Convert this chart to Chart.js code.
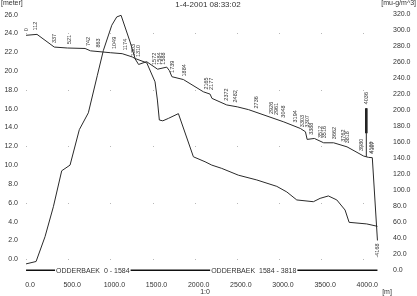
<!DOCTYPE html>
<html><head><meta charset="utf-8">
<script src="https://cdn.jsdelivr.net/npm/chart.js@4/dist/chart.umd.min.js"></script>
<style>html,body{margin:0;padding:0;background:#fff;overflow:hidden}canvas{display:block}</style>
</head><body><canvas id="c" width="417" height="296"></canvas>
<script>
// ---- data ----
const wlChainage = [0,130,335,490,700,765,1000,1140,1260,1290,1335,1430,1560,1669,1700,1730,1866,2103,2183,2205,2380,2505,2640,3057,3254,3314,3334,3420,3530,3648,3807,4004,4063,4107,4168];
const wlLevel    = [23.8,23.9,22.55,22.45,22.4,22.15,21.95,21.85,21.5,21.35,20.7,21.0,20.2,20.42,20.05,19.4,19.1,17.8,17.55,17.1,16.4,16.2,15.9,14.6,13.9,13.55,12.74,12.84,12.38,12.38,11.95,10.97,10.83,10.8,2.0];
const concChainage = [0,119,225,324,423,522,632,739,846,917,1017,1076,1127,1234,1293,1432,1530,1558,1581,1622,1688,1807,1985,2123,2203,2321,2518,2737,2974,3093,3211,3408,3488,3586,3686,3784,3832,4041,4168];
const concValue    = [8,11,42,79.5,124.5,131.6,176,197,244,275,306.6,317,319,285.7,265,259.5,235.8,213,188,187,190,196,142,135.8,131.6,127.5,119,113,105,98,88,85.8,90,93,88,75.4,60,58,55];
const pointLabels = [0,112,337,521,742,863,1049,1174,1303,1310,1572,1584,1588,1739,1884,2165,2177,2372,2482,2736,2926,2961,3048,3194,3303,3307,3388,3512,3516,3662,3762,3818,3980,4036,4100,4107,4168];
const structureChainage = 4036;
const structureTop = 16.05;
const structureThickBottom = 13.4;
const branchNames = ['ODDERBAEK  0 - 1584', 'ODDERBAEK  1584 - 3818'];
const branchStart = [0, 1584];
const branchEnd   = [1584, 3818];
const xTickValues = [0,500,1000,1500,2000,2500,3000,3500,4000];
const leftTickValues = [0,2,4,6,8,10,12,14,16,18,20,22,24,26];
const rightTickValues = [0,20,40,60,80,100,120,140,160,180,200,220,240,260,280,300,320];
const gridDotLevels = [0,6,12,18,24];
const titleText = '1-4-2001 08:33:02';
const leftUnit = '[meter]';
const rightUnit = '[mu-g/m^3]';
const xUnit = '[m]';
const scaleText = '1:0';

// ---- helpers ----
function interp(xs, ys, x) {
  if (x <= xs[0]) return ys[0];
  for (let i = 1; i < xs.length; i++) {
    if (x <= xs[i]) { const t = (x - xs[i-1]) / (xs[i] - xs[i-1]); return ys[i-1] + t * (ys[i] - ys[i-1]); }
  }
  return ys[ys.length - 1];
}
const FONT = '"Liberation Sans", Arial, sans-serif';
const TXT = '#333';
const LINE = '#2a2a2a';

const overlay = {
  id: 'overlay',
  beforeDatasetsDraw(chart) {
    const {ctx, scales: {x, yL}} = chart;
    ctx.save();
    ctx.fillStyle = '#b8b8b8';
    for (const t of xTickValues) for (const g of gridDotLevels)
      ctx.fillRect(Math.round(x.getPixelForValue(t)), Math.round(yL.getPixelForValue(g)), 1, 1);
    ctx.restore();
  },
  afterDatasetsDraw(chart) {
    const {ctx, scales: {x, yL, yR}} = chart;
    ctx.save();
    // chainage labels
    const items = pointLabels.map(c => ({c, px: x.getPixelForValue(c)}));
    items.forEach(it => it.pos = it.px);
    const sep = 4.6;
    for (let pass = 0; pass < 6; pass++) {
      let groups = [], cur = [items[0]];
      for (let i = 1; i < items.length; i++) {
        if (items[i].pos - cur[cur.length-1].pos < sep) cur.push(items[i]); else { groups.push(cur); cur = [items[i]]; }
      }
      groups.push(cur);
      groups.forEach(g => {
        if (g.length < 2) return;
        const mean = g.reduce((s, it) => s + it.px, 0) / g.length;
        g.forEach((it, k) => it.pos = mean + (k - (g.length - 1) / 2) * sep);
      });
    }
    ctx.font = '5.5px ' + FONT;
    ctx.fillStyle = TXT;
    ctx.textBaseline = 'middle';
    const last = wlChainage[wlChainage.length - 1];
    items.forEach(it => {
      let v = interp(wlChainage, wlLevel, it.c);
      if (it.c === structureChainage) v = Math.max(v, structureTop);
      const py = yL.getPixelForValue(v);
      ctx.save();
      if (it.c === last) {
        ctx.translate(it.pos, py + 3);
        ctx.rotate(-Math.PI / 2);
        ctx.textAlign = 'right';
        ctx.fillText('-' + it.c, 0, 0);
      } else {
        ctx.translate(it.pos, py - 4);
        ctx.rotate(-Math.PI / 2);
        ctx.textAlign = 'left';
        ctx.fillText(String(it.c), 0, 0);
      }
      ctx.restore();
    });
    // branch labels
    ctx.font = '7px ' + FONT;
    ctx.textAlign = 'center';
    ctx.textBaseline = 'middle';
    const by = yR.getPixelForValue(0);
    branchNames.forEach((n, i) => {
      const cx = x.getPixelForValue((branchStart[i] + branchEnd[i]) / 2);
      const w = ctx.measureText(n).width;
      ctx.fillStyle = '#fff';
      ctx.fillRect(cx - w / 2 - 1, by - 4, w + 2, 8);
      ctx.fillStyle = TXT;
      ctx.fillText(n, cx, by + 0.5);
    });
    // titles and units
    ctx.font = '8px ' + FONT;
    ctx.fillStyle = TXT;
    ctx.textAlign = 'center';
    ctx.textBaseline = 'middle';
    ctx.fillText(titleText, 208, 5);
    ctx.font = '7px ' + FONT;
    ctx.textAlign = 'left';
    ctx.fillText(leftUnit, 1, 3);
    ctx.textAlign = 'right';
    ctx.fillText(rightUnit, 416, 3);
    ctx.textAlign = 'center';
    ctx.fillText(scaleText, 205, 292);
    ctx.fillText(xUnit, 387, 292);
    ctx.restore();
  }
};

const pts = (xs, ys) => xs.map((c, i) => ({x: c, y: ys[i]}));
const wlInterpAtStruct = interp(wlChainage, wlLevel, structureChainage);
const lastCh = wlChainage[wlChainage.length - 1];

new Chart(document.getElementById('c'), {
  type: 'scatter',
  data: {
    datasets: [
      {label: 'Water level', data: pts(wlChainage, wlLevel), yAxisID: 'yL', showLine: true, borderColor: LINE, borderWidth: 1, pointRadius: 0, tension: 0},
      {label: 'Concentration', data: pts(concChainage, concValue), yAxisID: 'yR', showLine: true, borderColor: LINE, borderWidth: 1, pointRadius: 0, tension: 0},
      {label: 'Structure', data: [{x: structureChainage, y: wlInterpAtStruct}, {x: structureChainage, y: structureTop}], yAxisID: 'yL', showLine: true, borderColor: LINE, borderWidth: 1, pointRadius: 0},
      {label: 'Structure body', data: [{x: structureChainage, y: structureThickBottom}, {x: structureChainage, y: structureTop}], yAxisID: 'yL', showLine: true, borderColor: '#111', borderWidth: 2.5, pointRadius: 0},
      {label: 'Branch', data: [{x: branchStart[0], y: 0}, {x: lastCh, y: 0}], yAxisID: 'yR', showLine: true, borderColor: '#111', borderWidth: 1.5, pointRadius: 0}
    ]
  },
  options: {
    responsive: false,
    devicePixelRatio: 1,
    animation: false,
    layout: {padding: {top: 8, left: 0, right: 0, bottom: 0}},
    plugins: {legend: {display: false}, tooltip: {enabled: false}},
    scales: {
      x: {
        type: 'linear', min: -48, max: 4305,
        afterBuildTicks: s => { s.ticks = xTickValues.map(v => ({value: v})); },
        afterFit: s => { s.height = 19; },
        grid: {display: false, drawTicks: false},
        border: {display: false},
        ticks: {font: {size: 7, family: FONT}, color: TXT, padding: 4, labelOffset: 4, maxRotation: 0, callback: v => Number(v).toFixed(1)}
      },
      yL: {
        type: 'linear', position: 'left', min: -1.88, max: 26.68,
        afterBuildTicks: s => { s.ticks = leftTickValues.map(v => ({value: v})); },
        afterFit: s => { s.width = 22; },
        grid: {display: false, drawTicks: false},
        border: {display: false},
        ticks: {font: {size: 7, family: FONT}, color: TXT, padding: 4, callback: v => Number(v).toFixed(1)}
      },
      yR: {
        type: 'linear', position: 'right', min: -8.4, max: 327.9,
        afterBuildTicks: s => { s.ticks = rightTickValues.map(v => ({value: v})); },
        afterFit: s => { s.width = 28; },
        grid: {display: false, drawTicks: false},
        border: {display: false},
        ticks: {font: {size: 7, family: FONT}, color: TXT, padding: 4, callback: v => Number(v).toFixed(1)}
      }
    }
  },
  plugins: [overlay]
});
</script>
</body></html>
